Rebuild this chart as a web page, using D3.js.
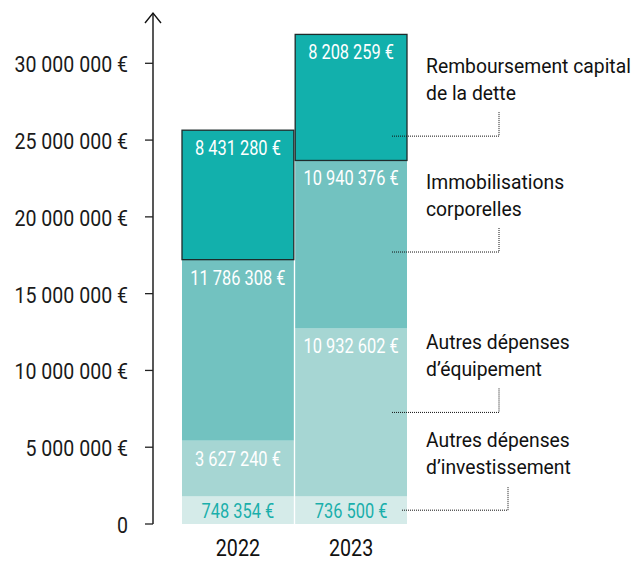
<!DOCTYPE html>
<head>
  <meta charset="utf-8">
  <title>depenses investissement</title>
  <style>
    body { margin: 0; background: #fff; }
    text { font-family: Roboto, "Noto Sans", sans-serif; }
  </style>
</head>

<script src="https://cdn.jsdelivr.net/npm/d3@7"></script>

<div id="my_dataviz"></div>

<script>

  // data (€), bottom segment first
  const years = ["2022", "2023"];
  const autresInvestissement = [748354, 736500];
  const autresEquipement = [3627240, 10932602];
  const immobilisations = [11786308, 10940376];
  const remboursement = [8431280, 8208259];

  const seriesKeys = ["invest", "equip", "immo", "rembt"];
  const seriesLabels = [
    ["Autres dépenses", "d’investissement"],
    ["Autres dépenses", "d’équipement"],
    ["Immobilisations", "corporelles"],
    ["Remboursement capital", "de la dette"]
  ];
  const yTicks = [0, 5000000, 10000000, 15000000, 20000000, 25000000, 30000000];

  // table for d3.stack
  const data = years.map((yr, i) => ({
    year: yr,
    invest: autresInvestissement[i],
    equip: autresEquipement[i],
    immo: immobilisations[i],
    rembt: remboursement[i]
  }));

  const W = 636, H = 563;
  const colors = ["#d5ebe9", "#a6d6d3", "#72c2c0", "#12b0ac"];
  const labelColors = ["#1aafab", "#ffffff", "#ffffff", "#ffffff"];
  const minShown = 1800000; // small segments get a minimum height so the label fits
  const leaderAt = [0.5, 0.5, 0.545, 0.807]; // where the leader hits the 2023 segment

  const fr = d3.formatLocale({decimal: ",", thousands: " ", grouping: [3], currency: ["", " €"]});
  const fmt = v => v === 0 ? "0" : fr.format("$,")(v);

  const svg = d3.select("#my_dataviz")
    .append("svg")
      .attr("width", W)
      .attr("height", H);

  const x = d3.scaleBand()
    .domain(years)
    .range([182, 407])
    .paddingInner(0.012);

  const y = d3.scaleLinear()
    .domain([0, 30000000])
    .range([524, 63.3]);

  const stacked = d3.stack()
    .keys(seriesKeys)
    .value((d, k) => Math.max(d[k], minShown))
    (data);

  // helper: condensed-looking text
  function ctext(g, tx, ty, sx) {
    return g.append("text").attr("transform", `translate(${tx},${ty}) scale(${sx},1)`);
  }

  // bars
  const layers = svg.append("g")
    .selectAll("g")
    .data(stacked)
    .join("g")
      .attr("fill", d => colors[d.index]);

  layers.selectAll("rect")
    .data(d => d.map(p => Object.assign(p, {layer: d.index})))
    .join("rect")
      .attr("x", d => x(d.data.year))
      .attr("y", d => y(d[1]))
      .attr("width", x.bandwidth())
      .attr("height", d => y(d[0]) - y(d[1]))
      .attr("stroke", d => d.layer === 3 ? "#1e2b2b" : "none")
      .attr("stroke-width", 1.3);

  // value labels inside bars
  const lab = svg.append("g");
  stacked.forEach(layer => {
    layer.forEach(p => {
      const v = p.data[layer.key];
      const top = y(p[1]);
      const by = layer.index === 0 ? (y(p[0]) + top) / 2 + 7.5 : top + 25;
      ctext(lab, x(p.data.year) + x.bandwidth() / 2, by, 0.8)
        .attr("text-anchor", "middle")
        .attr("font-size", 20.5)
        .attr("fill", labelColors[layer.index])
        .text(fr.format(",")(v) + " €");
    });
  });

  // y axis
  const ax = svg.append("g");
  ax.append("line")
    .attr("x1", 153).attr("x2", 153)
    .attr("y1", y(0)).attr("y2", 13)
    .attr("stroke", "#111").attr("stroke-width", 1.4);
  ax.append("path")
    .attr("d", "M145,23L153,13L161,23")
    .attr("fill", "none").attr("stroke", "#111").attr("stroke-width", 1.4);
  yTicks.forEach(t => {
    ax.append("line")
      .attr("x1", 145).attr("x2", 153)
      .attr("y1", y(t)).attr("y2", y(t))
      .attr("stroke", "#222").attr("stroke-width", 1.3);
    ctext(ax, 128, y(t) + 9, 0.89)
      .attr("text-anchor", "end")
      .attr("font-size", 22)
      .attr("fill", "#1a1a1a")
      .text(fmt(t));
  });

  // year labels
  years.forEach(yr => {
    ctext(svg, x(yr) + x.bandwidth() / 2, 556, 0.82)
      .attr("text-anchor", "middle")
      .attr("font-size", 24)
      .attr("fill", "#111")
      .text(yr);
  });

  // legend with dotted leaders, attached to the 2023 bar
  const last = years[years.length - 1];
  const barRight = x(last) + x.bandwidth();
  const leg = svg.append("g");
  stacked.forEach(layer => {
    const p = layer[layer.length - 1];
    const ly = y(p[1]) + (y(p[0]) - y(p[1])) * leaderAt[layer.index];
    const x0 = layer.index === 0 ? barRight - 5 : barRight - 15;
    const x1 = layer.index === 0 ? 508 : 499;
    leg.append("path")
      .attr("d", `M${x0},${ly}H${x1}V${ly - 24}`)
      .attr("fill", "none")
      .attr("stroke", "#111")
      .attr("stroke-width", 1)
      .attr("stroke-dasharray", "1,1");
    seriesLabels[layer.index].forEach((line, j) => {
      ctext(leg, 426, ly - 36 - (1 - j) * 27, 0.92)
        .attr("font-size", 21)
        .attr("fill", "#111")
        .text(line);
    });
  });

</script>
